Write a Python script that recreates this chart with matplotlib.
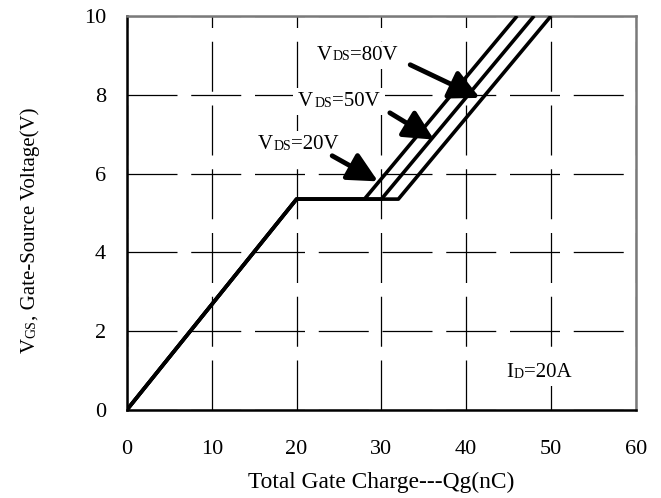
import numpy as np
import matplotlib
matplotlib.use('Agg')
import matplotlib.pyplot as plt
from matplotlib.patches import Rectangle
from matplotlib.transforms import Bbox

plt.rcParams['font.family'] = ['Liberation Serif', 'DejaVu Serif']

# gate charge curves (Qg in nC, VGS in V)
vgs = [0, 5.35, 5.35, 10]
qg_20v = [0, 20, 28, 46.0]
qg_50v = [0, 20, 30, 48.0]
qg_80v = [0, 20, 32, 50.0]

xticks = [0, 10, 20, 30, 40, 50, 60]
yticks = [0, 2, 4, 6, 8, 10]

# label text position, arrow start, arrow tip (data coords)
labels = ["80V", "50V", "20V"]
label_xy = [(27.1, 9.0), (24.9, 7.82), (20.1, 6.73)]
arrow_from = [(33.4, 8.76), (31.0, 7.54), (24.2, 6.45)]
arrow_to = [(41.6, 7.92), (36.2, 6.86), (29.6, 5.80)]

fig = plt.figure(figsize=(6.61, 4.98), dpi=100)
ax = fig.add_axes([0.192, 0.177, 0.77, 0.791])

for qg in [qg_20v, qg_50v, qg_80v]:
    ax.plot(qg, vgs, color='black', lw=2.6, solid_capstyle='butt', zorder=3)

ax.set_xlim(0, 60)
ax.set_ylim(0, 10)
ax.set_xticks(xticks)
ax.set_yticks(yticks)
ax.tick_params(length=0, labelsize=16)
ax.tick_params(axis='x', pad=22)
ax.tick_params(axis='y', pad=15)
ax.grid(True, color='black', lw=0.9, linestyle=(0, (40, 11)))

for side in ['left', 'bottom']:
    ax.spines[side].set_linewidth(1.8)
    ax.spines[side].set_color('black')
for side in ['top', 'right']:
    ax.spines[side].set_linewidth(1.8)
    ax.spines[side].set_color('#7a7a7a')

ax.set_xlabel("Total Gate Charge---Qg(nC)", fontsize=16.8, labelpad=9)

DESC = 0.217  # descent of Liberation Serif, in em


def sub_label(x, y, big, small, rest, size=15, sub_size=10):
    t1 = ax.text(x, y, big, fontsize=size, ha='left', va='bottom', zorder=4)
    t2 = ax.annotate(small, xy=(1, 0), xycoords=t1, fontsize=sub_size,
                     xytext=(0.5, DESC * (size - sub_size)), textcoords='offset points',
                     ha='left', va='bottom', zorder=4)
    t3 = ax.annotate(rest, xy=(1, 0), xycoords=(t2, t1), fontsize=size,
                     ha='left', va='bottom', zorder=4)
    return [t1, t2, t3]


groups = []
for lab, (lx, ly), start, tip in zip(labels, label_xy, arrow_from, arrow_to):
    groups.append(sub_label(lx - 4.7, ly - 0.24, "V", "DS", "=" + lab))
    ax.annotate("", xy=tip, xytext=start,
                arrowprops=dict(arrowstyle='-|>,head_length=0.9,head_width=0.45',
                                color='black', lw=3.5, mutation_scale=20,
                                shrinkA=0, shrinkB=0), zorder=5)

groups.append(sub_label(44.7, 0.7, "I", "D", "=20A"))

# white boxes behind the labels so the grid is broken there
fig.canvas.draw()
r = fig.canvas.get_renderer()
for g in groups:
    bb = Bbox.union([t.get_window_extent(r) for t in g])
    ax.add_patch(Rectangle((bb.x0 - 5, bb.y0 - 4), bb.width + 10, bb.height + 8,
                           transform=None, facecolor='white', edgecolor='none',
                           zorder=2))

# rotated y label with smaller subscript
ysz, ysub = 15, 10
yx, yy = 0.060, 0.291
y1 = fig.text(yx, yy, "V", rotation=90, fontsize=ysz, ha='right', va='bottom')
fig.canvas.draw()
inv = fig.transFigure.inverted()
top1 = inv.transform(y1.get_window_extent(r).get_points())[1][1]
y2 = fig.text(yx - DESC * (ysz - ysub) / 72 / 6.61, top1, "GS", rotation=90,
              fontsize=ysub, ha='right', va='bottom')
fig.canvas.draw()
top2 = inv.transform(y2.get_window_extent(r).get_points())[1][1]
fig.text(yx, top2, ", Gate-Source Voltage(V)", rotation=90, fontsize=ysz,
         ha='right', va='bottom')

fig.savefig('out.png', dpi=100)
